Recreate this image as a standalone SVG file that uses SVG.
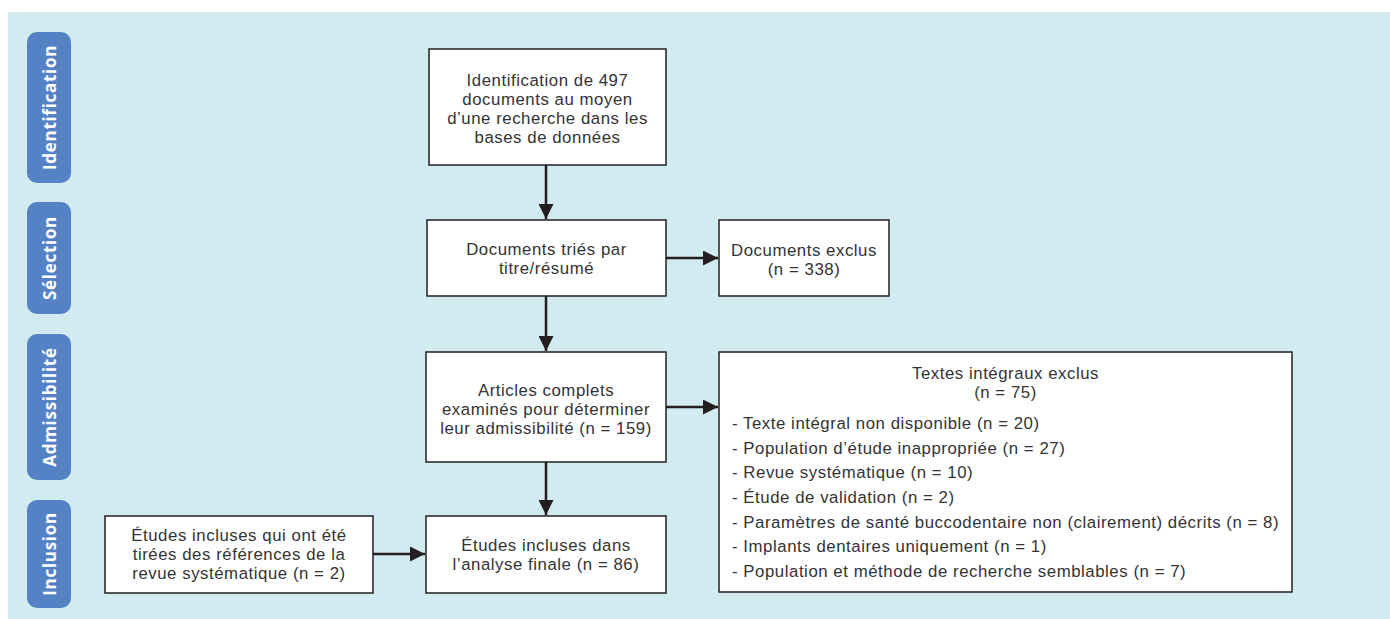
<svg xmlns="http://www.w3.org/2000/svg" width="1390" height="619" viewBox="0 0 1390 619">
<defs>
<style>
.bg{fill:#d2ebf1}
.lab{fill:#5482c4}
.labt{fill:#ffffff;font-family:"Open Sans",sans-serif;font-weight:700;font-size:17px;letter-spacing:0.7px;text-anchor:middle;dominant-baseline:central}
.box{fill:#ffffff;stroke:#231f20;stroke-width:1.5}
.t{fill:#333333;font-family:"Liberation Sans",Arial,sans-serif;font-size:16.8px;letter-spacing:0.55px}
.c{text-anchor:middle}
.con{stroke:#231f20;stroke-width:2.5;fill:none}
</style>
<marker id="ah" viewBox="0 0 10 10" refX="10" refY="5" markerWidth="7" markerHeight="6" markerUnits="strokeWidth" orient="auto">
<path d="M0,0 L10,5 L0,10 Z" fill="#231f20"/>
</marker>
</defs>
<rect class="bg" x="8" y="12" width="1382" height="607"/>

<g id="label-identification">
<rect class="lab" x="27" y="32" width="44" height="151" rx="10"/>
<text class="labt" transform="translate(49,107.5) rotate(-90)">Identification</text>
</g>
<g id="label-selection">
<rect class="lab" x="27" y="202" width="44" height="112" rx="10"/>
<text class="labt" transform="translate(49,258) rotate(-90)">Sélection</text>
</g>
<g id="label-admissibilite">
<rect class="lab" x="27" y="334" width="44" height="146" rx="10"/>
<text class="labt" transform="translate(49,407) rotate(-90)">Admissibilité</text>
</g>
<g id="label-inclusion">
<rect class="lab" x="27" y="500" width="44" height="108" rx="10"/>
<text class="labt" transform="translate(49,554) rotate(-90)">Inclusion</text>
</g>

<g id="identification">
<rect class="box" x="429" y="49" width="237" height="116"/>
<text class="t c" x="547.5" y="86">Identification de 497</text>
<text class="t c" x="547.5" y="105">documents au moyen</text>
<text class="t c" x="547.5" y="124">d’une recherche dans les</text>
<text class="t c" x="547.5" y="143">bases de données</text>
</g>
<g id="tries">
<rect class="box" x="427" y="220" width="239" height="76"/>
<text class="t c" x="546.5" y="255">Documents triés par</text>
<text class="t c" x="546.5" y="274">titre/résumé</text>
</g>
<g id="exclus">
<rect class="box" x="719" y="220" width="170" height="76"/>
<text class="t c" x="804" y="256">Documents exclus</text>
<text class="t c" x="804" y="275">(n = 338)</text>
</g>
<g id="articles">
<rect class="box" x="426" y="352" width="240" height="110"/>
<text class="t c" x="546" y="396">Articles complets</text>
<text class="t c" x="546" y="415">examinés pour déterminer</text>
<text class="t c" x="546" y="434">leur admissibilité (n = 159)</text>
</g>
<g id="textes-exclus">
<rect class="box" x="719" y="352" width="573" height="240"/>
<text class="t c" x="1005.5" y="379">Textes intégraux exclus</text>
<text class="t c" x="1005.5" y="398">(n = 75)</text>
<text class="t" x="732" y="429">- Texte intégral non disponible (n = 20)</text>
<text class="t" x="732" y="454">- Population d’étude inappropriée (n = 27)</text>
<text class="t" x="732" y="478">- Revue systématique (n = 10)</text>
<text class="t" x="732" y="503">- Étude de validation (n = 2)</text>
<text class="t" x="732" y="528">- Paramètres de santé buccodentaire non (clairement) décrits (n = 8)</text>
<text class="t" x="732" y="552">- Implants dentaires uniquement (n = 1)</text>
<text class="t" x="732" y="577">- Population et méthode de recherche semblables (n = 7)</text>
</g>
<g id="etudes-ref">
<rect class="box" x="105" y="516" width="268" height="77"/>
<text class="t c" x="239" y="541">Études incluses qui ont été</text>
<text class="t c" x="239" y="560">tirées des références de la</text>
<text class="t c" x="239" y="579">revue systématique (n = 2)</text>
</g>
<g id="etudes-finale">
<rect class="box" x="426" y="516" width="240" height="77"/>
<text class="t c" x="546" y="551">Études incluses dans</text>
<text class="t c" x="546" y="570">l’analyse finale (n = 86)</text>
</g>

<g id="connectors">
<line class="con" x1="546" y1="165" x2="546" y2="219" marker-end="url(#ah)"/>
<line class="con" x1="546" y1="296" x2="546" y2="351" marker-end="url(#ah)"/>
<line class="con" x1="546" y1="462" x2="546" y2="515" marker-end="url(#ah)"/>
<line class="con" x1="666" y1="258" x2="718" y2="258" marker-end="url(#ah)"/>
<line class="con" x1="666" y1="407" x2="718" y2="407" marker-end="url(#ah)"/>
<line class="con" x1="373" y1="554" x2="425" y2="554" marker-end="url(#ah)"/>
</g>
</svg>
